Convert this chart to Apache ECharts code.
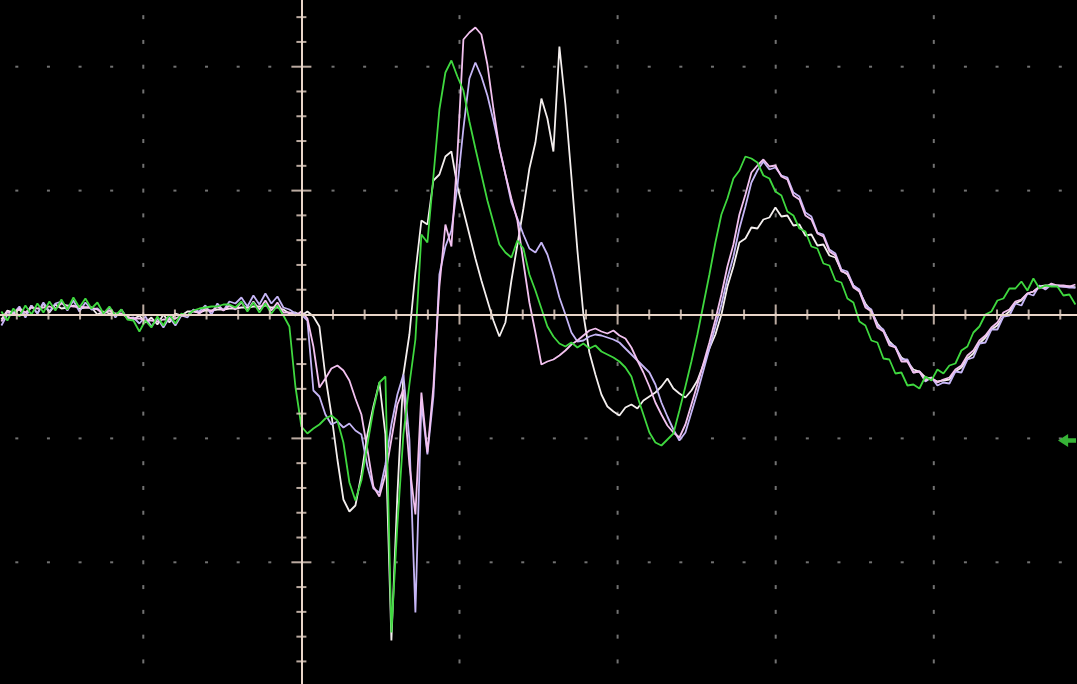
<!DOCTYPE html>
<html>
<head>
<meta charset="utf-8">
<script src="https://cdn.jsdelivr.net/npm/echarts@6/dist/echarts.min.js"></script>
<style>
  html, body { margin: 0; padding: 0; background: #000; }
  #scope { width: 1077px; height: 684px; }
</style>
</head>
<body>
<div id="scope"></div>
<script>
// Timebase: samples relative to the trigger point, one stored point every 6 samples
const T_START = -300;
const T_STEP = 6;
const N_SAMPLES = 180;

// Screen scale: samples per horizontal division, ADC counts per vertical division
const X_DIV = 158.1;
const Y_DIV = 123.9;
const X_MIN = -301.4, X_MAX = 775.6;
const Y_MIN = -369.5, Y_MAX = 314.5;

// Trigger level marker (ADC counts)
const TRIGGER_LEVEL = -126;

// Channel records (ADC counts)
const chGreen = [
  3, -6, 6, -2, 9, 0, 11, 2, 13, 4,
  15, 5, 17, 7, 16, 6, 12, 1, 8, -1,
  5, -5, -6, -17, -6, -13, -2, -11, 0, -9,
  1, -1, 4, 6, 7, 8, 8, 10, 10, 7,
  13, 3, 12, 2, 11, 1, 9, -1, -12, -72,
  -112, -119, -114, -110, -104, -101, -106, -128, -168, -186,
  -166, -130, -95, -68, -62, -318, -210, -120, -70, -25,
  80, 72, 138, 205, 242, 254, 238, 224, 193, 166,
  140, 114, 92, 70, 62, 57, 74, 66, 40, 24,
  6, -12, -22, -29, -32, -28, -33, -29, -34, -31,
  -37, -40, -43, -47, -53, -62, -82, -100, -118, -128,
  -131, -125, -119, -96, -72, -47, -20, 10, 40, 72,
  100, 116, 136, 144, 158, 156, 152, 139, 136, 123,
  119, 103, 99, 86, 83, 68, 66, 51, 49, 34,
  32, 16, 12, -7, -11, -26, -28, -44, -45, -59,
  -58, -71, -70, -74, -62, -66, -55, -59, -51, -49,
  -36, -32, -18, -12, 0, 3, 14, 16, 26, 26,
  33, 24, 36, 26, 29, 28, 28, 19, 20, 10
];

const chLavender = [
  -11, 0, 1, 8, -3, 9, 1, 12, 3, 11,
  13, 4, 14, 3, 12, 5, 6, 0, 7, -3,
  5, -4, -3, -9, -2, -12, -4, -13, -3, -11,
  -1, -3, 5, 3, 9, 0, 11, 4, 13, 11,
  17, 8, 19, 10, 21, 11, 18, 7, 5, 1,
  0, -6, -76, -82, -100, -110, -107, -113, -109, -116,
  -120, -152, -174, -178, -150, -110, -80, -60, -125, -298,
  -88, -140, -82, 40, 68, 84, 128, 186, 236, 252,
  238, 219, 194, 167, 140, 112, 96, 80, 66, 62,
  72, 60, 40, 17, 0, -18, -27, -26, -22, -20,
  -21, -23, -25, -28, -34, -40, -46, -52, -58, -70,
  -88, -102, -115, -126, -118, -98, -78, -56, -34, -12,
  10, 36, 58, 86, 108, 132, 144, 153, 145, 147,
  139, 137, 122, 118, 102, 98, 82, 80, 65, 61,
  45, 43, 29, 25, 9, 5, -11, -15, -29, -32,
  -45, -45, -58, -57, -67, -63, -71, -68, -69, -57,
  -58, -45, -43, -29, -28, -15, -15, -2, -1, 11,
  9, 21, 19, 29, 25, 30, 28, 28, 27, 27
];

const chPink = [
  -7, 3, 0, 6, 2, 7, 6, 7, 8, 6,
  11, 9, 8, 8, 7, 7, 5, 1, 4, 0,
  1, -3, -4, -4, -6, -6, -7, -5, -5, -4,
  -1, -1, 4, 1, 6, 3, 8, 4, 9, 5,
  12, 4, 13, 5, 14, 4, 12, 2, 2, -1,
  3, -4, -32, -73, -64, -54, -51, -56, -66, -84,
  -100, -135, -172, -182, -160, -125, -90, -75, -150, -200,
  -78, -138, -72, 28, 90, 68, 160, 275, 282, 287,
  280, 250, 206, 166, 140, 116, 94, 52, 12, -18,
  -50, -47, -45, -41, -36, -30, -26, -21, -16, -14,
  -17, -19, -16, -21, -24, -33, -46, -58, -72, -88,
  -100, -111, -118, -123, -110, -90, -70, -49, -28, -5,
  20, 48, 70, 100, 120, 142, 149, 155, 148, 149,
  138, 135, 119, 115, 99, 95, 81, 78, 63, 59,
  43, 41, 27, 23, 7, 3, -13, -17, -31, -33,
  -47, -47, -58, -57, -66, -63, -68, -65, -63, -55,
  -51, -41, -36, -26, -21, -13, -8, 2, 5, 13,
  15, 21, 23, 27, 27, 31, 29, 29, 28, 30
];

const chWhite = [
  -5, 4, 2, 5, -1, 9, 1, 11, 2, 10,
  6, 7, 9, 6, 7, 7, 0, 3, 1, 1,
  0, -2, -5, -1, -8, -3, -10, 0, -8, 1,
  -1, 3, 3, 2, 4, 4, 5, 5, 6, 6,
  7, 7, 8, 8, 9, 7, 7, 5, 1, 2,
  -1, 3, -2, -12, -62, -100, -145, -185, -197, -191,
  -160, -120, -92, -68, -120, -326, -180, -60, -20, 42,
  94, 90, 134, 140, 158, 163, 128, 104, 80, 56,
  34, 14, -6, -22, -8, 34, 70, 106, 146, 172,
  216, 196, 163, 268, 210, 138, 64, 0, -38, -60,
  -80, -92, -97, -101, -93, -90, -94, -86, -82, -78,
  -72, -64, -74, -79, -83, -76, -66, -50, -34, -20,
  0, 28, 48, 72, 76, 87, 86, 95, 97, 107,
  98, 99, 89, 90, 79, 80, 69, 70, 59, 57,
  44, 40, 29, 23, 11, 3, -9, -16, -27, -33,
  -43, -47, -55, -57, -63, -64, -67, -66, -65, -57,
  -53, -44, -39, -29, -23, -15, -11, -2, 3, 11,
  14, 21, 23, 28, 29, 29, 29, 28, 28, 27
];

const time = [];
for (let i = 0; i < N_SAMPLES; i++) time.push(T_START + i * T_STEP);
const pair = (arr) => arr.map((v, i) => [time[i], v]);

// Graticule: dotted division lines and the tick marks on the centre cross
const xMinor = X_DIV / 5, yMinor = Y_DIV / 5;
const mLo = Math.ceil(X_MIN / xMinor), mHi = Math.floor(X_MAX / xMinor);
const nLo = Math.ceil(Y_MIN / yMinor), nHi = Math.floor(Y_MAX / yMinor);
const hDots = [], vDots = [];
[-2, -1, 1, 2].forEach(j => {
  for (let m = mLo; m <= mHi; m++) if (m % 5 !== 0) hDots.push([m * xMinor, j * Y_DIV]);
});
[-1, 1, 2, 3, 4].forEach(k => {
  for (let n = nLo; n <= nHi; n++) vDots.push([k * X_DIV, n * yMinor]);
});
const xTicksMinor = [], xTicksMajor = [], yTicksMinor = [], yTicksMajor = [];
for (let m = mLo; m <= mHi; m++) {
  if (m === 0) continue;
  (m % 5 === 0 ? xTicksMajor : xTicksMinor).push([m * xMinor, 0]);
}
for (let n = nLo; n <= nHi; n++) {
  if (n === 0) continue;
  (n % 5 === 0 ? yTicksMajor : yTicksMinor).push([0, n * yMinor]);
}

const AXIS_COLOR = '#e8d5c8';
const DOT_COLOR = '#8e8e8e';

const dotSeries = (data, size) => ({
  type: 'scatter', data, symbol: 'rect', symbolSize: size,
  itemStyle: { color: DOT_COLOR }, silent: true, z: 1, animation: false
});
const tickSeries = (data, size) => ({
  type: 'scatter', data, symbol: 'rect', symbolSize: size,
  itemStyle: { color: AXIS_COLOR }, silent: true, z: 6, animation: false
});
const trace = (name, arr, color) => ({
  name, type: 'line', data: pair(arr), showSymbol: false, symbol: 'none',
  sampling: 'none', smooth: false, silent: true, z: 3,
  lineStyle: { color, width: 1.8 }
});

const chart = echarts.init(document.getElementById('scope'), null, { renderer: 'canvas' });
chart.setOption({
  backgroundColor: '#000000',
  animation: false,
  grid: { left: 0, right: 0, top: 0, bottom: 0, containLabel: false },
  xAxis: {
    type: 'value', min: X_MIN, max: X_MAX, z: 5,
    axisLine: { show: true, onZero: true, lineStyle: { color: AXIS_COLOR, width: 2 } },
    axisTick: { show: false }, axisLabel: { show: false }, splitLine: { show: false }
  },
  yAxis: {
    type: 'value', min: Y_MIN, max: Y_MAX, z: 5,
    axisLine: { show: true, onZero: true, lineStyle: { color: AXIS_COLOR, width: 2 } },
    axisTick: { show: false }, axisLabel: { show: false }, splitLine: { show: false }
  },
  series: [
    dotSeries(hDots, [3, 2]),
    dotSeries(vDots, [2, 4]),
    trace('CH4', chWhite, '#f4efee'),
    trace('CH3', chLavender, '#c6b6f6'),
    trace('CH2', chPink, '#f3c2f0'),
    trace('CH1', chGreen, '#3fd83f'),
    tickSeries(xTicksMinor, [2, 10]),
    tickSeries(xTicksMajor, [2, 20]),
    tickSeries(yTicksMinor, [10, 2]),
    tickSeries(yTicksMajor, [20, 2]),
    {
      type: 'scatter', silent: true, z: 7,
      data: [[X_MAX, TRIGGER_LEVEL]],
      symbol: 'path://M0,6 L9,0 L9,4 L16,4 L16,8 L9,8 L9,12 Z',
      symbolSize: [18, 13], symbolOffset: [-10, 0],
      itemStyle: { color: '#44e044' }
    }
  ]
});
</script>
</body>
</html>
